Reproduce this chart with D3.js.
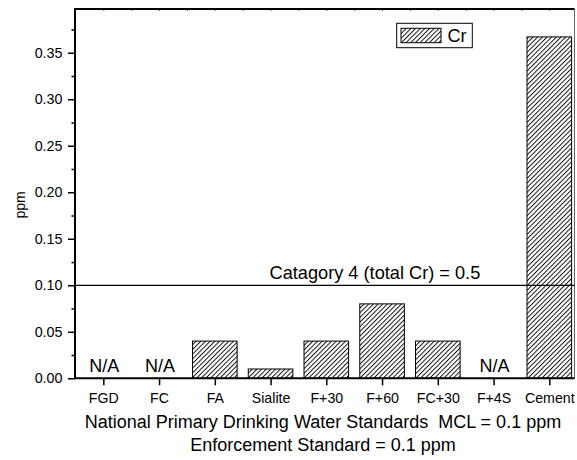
<!DOCTYPE html>
<html>
<head>
<meta charset="utf-8">
<script src="https://cdn.jsdelivr.net/npm/d3@7"></script>
<style>
  html, body { margin: 0; padding: 0; background: #fff; }
  svg { display: block; font-family: "Liberation Sans", Arial, sans-serif; }
  .xtitle { white-space: pre; }
</style>
</head>
<body>
<svg id="chart" width="577" height="460"></svg>
<script>
// Leachate chromium concentration by material (ppm)
const categories = ["FGD", "FC", "FA", "Sialite", "F+30", "F+60", "FC+30", "F+4S", "Cement"];
const crValues   = [null, null, 0.04, 0.01, 0.04, 0.08, 0.04, null, 0.367];
const yTicks     = [0.00, 0.05, 0.10, 0.15, 0.20, 0.25, 0.30, 0.35];
const yMinorTicks = [0.025, 0.075, 0.125, 0.175, 0.225, 0.275, 0.325, 0.375];
const mclValue   = 0.10;
const mclLabel   = "Catagory 4 (total Cr) = 0.5";
const xTitleLines = ["National Primary Drinking Water Standards  MCL = 0.1 ppm",
                     "Enforcement Standard = 0.1 ppm"];
const seriesName = "Cr";

const svg = d3.select("#chart");
const plotL = 75, plotR = 574.5, plotT = 9, plotB = 378.3;
const FONT = "Liberation Sans, Arial, sans-serif";

const x = d3.scaleLinear().domain([-0.508, 8.452]).range([plotL, plotR]);
const y = d3.scaleLinear().domain([0, 0.397]).range([plotB, plotT]);
const step = x(1) - x(0);
const barW = step * 0.8;

// diagonal hatch fill
const defs = svg.append("defs");
const hs = 3.3;
const pat = defs.append("pattern")
  .attr("id", "hatch")
  .attr("patternUnits", "userSpaceOnUse")
  .attr("width", hs).attr("height", hs)
  .attr("patternTransform", "rotate(45)");
pat.append("rect").attr("width", hs).attr("height", hs).attr("fill", "#fff");
pat.append("line")
  .attr("x1", 0.5).attr("y1", 0).attr("x2", 0.5).attr("y2", hs)
  .attr("stroke", "#000").attr("stroke-width", 0.9);

// right frame
svg.append("line")
  .attr("x1", plotR).attr("x2", plotR).attr("y1", plotT).attr("y2", plotB)
  .attr("stroke", "#666").attr("stroke-width", 1);

// bars
const data = categories.map((c, i) => ({ c, i, v: crValues[i] }));
svg.append("g").selectAll("rect")
  .data(data.filter(d => d.v !== null))
  .join("rect")
  .attr("x", d => x(d.i) - barW / 2)
  .attr("y", d => y(d.v))
  .attr("width", barW)
  .attr("height", d => y(0) - y(d.v))
  .attr("fill", "url(#hatch)")
  .attr("stroke", "#000")
  .attr("stroke-width", 1);

// N/A labels for missing data
svg.append("g").selectAll("text")
  .data(data.filter(d => d.v === null))
  .join("text")
  .attr("x", d => x(d.i) + 1)
  .attr("y", 372.3)
  .attr("text-anchor", "middle")
  .attr("font-size", 18)
  .text("N/A");

// MCL reference line
svg.append("line")
  .attr("x1", plotL).attr("x2", plotR)
  .attr("y1", y(mclValue)).attr("y2", y(mclValue))
  .attr("stroke", "#000").attr("stroke-width", 1.3);
svg.append("text")
  .attr("x", 269.5).attr("y", 279)
  .attr("font-size", 18.2)
  .text(mclLabel);

// y axis
const yAxis = svg.append("g").attr("transform", `translate(${plotL},0)`)
  .call(d3.axisLeft(y).tickValues(yTicks).tickFormat(d3.format(".2f")).tickSize(7).tickPadding(5.5));
yAxis.select(".domain").remove();
yAxis.selectAll(".tick line").attr("stroke-width", 1.5);
yAxis.selectAll("text").attr("font-size", 14.3).attr("fill", "#000").attr("font-family", FONT);
svg.append("g").attr("transform", `translate(${plotL},0)`)
  .call(d3.axisLeft(y).tickValues(yMinorTicks).tickFormat("").tickSize(3.5))
  .call(g => g.select(".domain").remove())
  .selectAll(".tick line").attr("stroke-width", 1.5);

// x axis
const xAxis = svg.append("g").attr("transform", `translate(0,${plotB})`)
  .call(d3.axisBottom(x).tickValues(d3.range(categories.length))
    .tickFormat(i => categories[i]).tickSize(7).tickPadding(8));
xAxis.select(".domain").remove();
xAxis.selectAll(".tick line").attr("stroke-width", 1.5);
xAxis.selectAll("text").attr("font-size", 14.2).attr("fill", "#000").attr("font-family", FONT);

// top axis: small inward ticks at every half category
svg.append("g").attr("transform", `translate(0,${plotT})`)
  .call(d3.axisTop(x).tickValues(d3.range(0, 8.01, 0.5)).tickFormat("").tickSize(-2))
  .call(g => g.select(".domain").remove())
  .selectAll(".tick line").attr("stroke", "#555");

// frame lines: left, bottom, top
svg.append("path")
  .attr("d", `M${plotR},${plotT}H${plotL}V${plotB}H${plotR}`)
  .attr("fill", "none").attr("stroke", "#000").attr("stroke-width", 2);

// axis titles
svg.append("text")
  .attr("transform", "translate(24.5,205) rotate(-90)")
  .attr("text-anchor", "middle")
  .attr("font-size", 14)
  .text("ppm");
svg.selectAll(".xtitle")
  .data(xTitleLines)
  .join("text")
  .attr("class", "xtitle")
  .attr("x", 323)
  .attr("y", (d, i) => 427.5 + i * 23.2)
  .attr("text-anchor", "middle")
  .attr("font-size", 18)
  .text(d => d);

// legend
const lg = svg.append("g");
lg.append("rect").attr("x", 396.7).attr("y", 23.3).attr("width", 75.6).attr("height", 24.4)
  .attr("fill", "#fff").attr("stroke", "#000").attr("stroke-width", 1);
lg.append("rect").attr("x", 401).attr("y", 28.3).attr("width", 40).attr("height", 14.4)
  .attr("fill", "url(#hatch)").attr("stroke", "#000").attr("stroke-width", 1);
lg.append("text").attr("x", 447.5).attr("y", 42).attr("font-size", 18).text(seriesName);
</script>
</body>
</html>
